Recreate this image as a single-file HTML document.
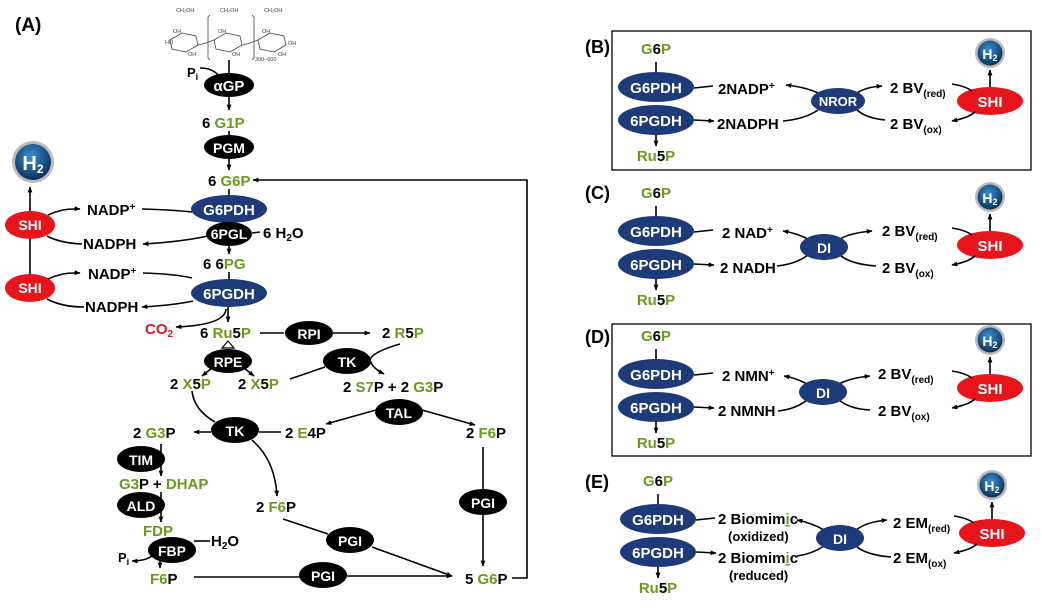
<!DOCTYPE html>
<html><head><meta charset="utf-8"><style>
html,body{margin:0;padding:0;background:#fff;}
svg{display:block;font-family:"Liberation Sans",Arial,sans-serif;font-weight:bold;}
.g{fill:#6a9a1f}.k{fill:#000}.w{fill:#fff}.r{fill:#e8141b}
.ln{stroke:#000;stroke-width:1.6;fill:none}
.a{stroke:#000;stroke-width:1.6;fill:none;marker-end:url(#ar)}
</style></head><body>
<svg width="1042" height="608" viewBox="0 0 1042 608" xmlns="http://www.w3.org/2000/svg">
<defs>
<marker id="ar" viewBox="0 0 10 10" refX="9" refY="5" markerWidth="6" markerHeight="6" orient="auto" markerUnits="userSpaceOnUse"><path d="M0,1 L10,5 L0,9 Z" fill="#000"/></marker>
<radialGradient id="hg" cx="45%" cy="35%" r="65%"><stop offset="0" stop-color="#3a8fd0"/><stop offset="1" stop-color="#0a2f5a"/></radialGradient>
</defs>

<!-- ================= Panel A ================= -->
<text x="15" y="31" font-size="19" class="k">(A)</text>

<g stroke="#444" stroke-width="0.8" fill="none">
<path d="M170,40 L182,33 L196,36 L198,45 L186,52 L172,49 Z"/>
<path d="M214,40 L226,33 L240,36 L242,45 L230,52 L216,49 Z"/>
<path d="M258,40 L270,33 L284,36 L286,45 L274,52 L260,49 Z"/>
<path d="M198,45 L206,43 L214,40 M242,45 L250,43 L258,40"/>
<path d="M210,15 L208,17 L208,58 L210,60 M252,15 L254,17 L254,58 L252,60"/>
</g>
<g font-size="5.5" font-weight="normal" fill="#444">
<text x="176" y="12">CH₂OH</text><text x="220" y="12">CH₂OH</text><text x="264" y="12">CH₂OH</text>
<text x="173" y="33">OH</text><text x="218" y="33">OH</text><text x="262" y="33">OH</text>
<text x="165" y="44">HO</text><text x="188" y="56">OH</text><text x="232" y="56">OH</text><text x="278" y="56">OH</text>
<text x="288" y="45">OH</text><text x="255" y="61">300–600</text>
</g>

<text x="187" y="77" font-size="13">P<tspan font-size="9" dy="3">i</tspan></text>
<path class="ln" d="M200,68 Q212,68 218,75"/>
<line class="ln" x1="229" y1="60" x2="229" y2="74"/>
<ellipse cx="229" cy="85" rx="25" ry="12" fill="#000"/>
<text x="229" y="91" font-size="15" class="w" text-anchor="middle">αGP</text>
<line class="a" x1="229" y1="97" x2="229" y2="110"/>
<text x="202" y="128" font-size="15"><tspan class="k">6 </tspan><tspan class="g">G1P</tspan></text>
<line class="ln" x1="229" y1="131" x2="229" y2="136"/>
<ellipse cx="229" cy="147" rx="25" ry="12" fill="#000"/>
<text x="229" y="153" font-size="14" class="w" text-anchor="middle">PGM</text>
<line class="a" x1="229" y1="159" x2="229" y2="170"/>
<text x="208" y="186" font-size="15"><tspan class="k">6 </tspan><tspan class="g">G6P</tspan></text>
<line class="ln" x1="229" y1="189" x2="229" y2="196"/>
<ellipse cx="229" cy="209" rx="38" ry="14" fill="#1f3a78"/>
<text x="229" y="215" font-size="15" class="w" text-anchor="middle">G6PDH</text>
<ellipse cx="229" cy="234" rx="23" ry="12" fill="#000"/>
<text x="229" y="239" font-size="14" class="w" text-anchor="middle">6PGL</text>
<line class="ln" x1="252" y1="233" x2="260" y2="232"/>
<text x="263" y="238" font-size="15" class="k">6 H<tspan font-size="10" dy="3">2</tspan><tspan dy="-3">O</tspan></text>
<line class="a" x1="229" y1="246" x2="229" y2="254"/>
<text x="203" y="269" font-size="15"><tspan class="k">6 6</tspan><tspan class="g">PG</tspan></text>
<line class="ln" x1="229" y1="272" x2="229" y2="280"/>
<ellipse cx="229" cy="293" rx="38" ry="14" fill="#1f3a78"/>
<text x="229" y="299" font-size="15" class="w" text-anchor="middle">6PGDH</text>

<circle cx="33" cy="162" r="21" fill="#bbb"/>
<circle cx="33" cy="162" r="18" fill="url(#hg)"/>
<text x="33" y="170" font-size="20" class="w" text-anchor="middle">H<tspan font-size="12" dy="3">2</tspan></text>
<line class="a" x1="30" y1="276" x2="30" y2="187"/>
<ellipse cx="30" cy="225" rx="25" ry="14" fill="#e8141b"/>
<text x="30" y="230" font-size="14" class="w" text-anchor="middle">SHI</text>
<ellipse cx="30" cy="288" rx="25" ry="14" fill="#e8141b"/>
<text x="30" y="293" font-size="14" class="w" text-anchor="middle">SHI</text>
<path class="a" d="M48,215 Q62,208 80,209"/>
<text x="87" y="215" font-size="15" class="k">NADP<tspan font-size="10" dy="-5">+</tspan></text>
<path class="ln" d="M142,209 Q175,210 192,212"/>
<path class="ln" d="M47,236 Q60,243 82,244"/>
<text x="83" y="249" font-size="15" class="k">NADPH</text>
<path class="a" d="M208,236 Q180,242 143,244"/>
<path class="a" d="M48,279 Q62,272 80,273"/>
<text x="88" y="279" font-size="15" class="k">NADP<tspan font-size="10" dy="-5">+</tspan></text>
<path class="ln" d="M143,273 Q175,274 192,278"/>
<path class="ln" d="M47,299 Q62,307 84,307"/>
<text x="85" y="312" font-size="15" class="k">NADPH</text>
<path class="a" d="M193,301 Q175,305 142,307"/>

<path class="a" d="M228,307 L228,322"/>
<path class="a" d="M226,309 Q225,325 176,327"/>
<text x="145" y="334" font-size="15" class="r">CO<tspan font-size="10" dy="3">2</tspan></text>
<text x="200" y="338" font-size="15"><tspan class="k">6 </tspan><tspan class="g">Ru</tspan><tspan class="k">5</tspan><tspan class="g">P</tspan></text>
<line class="ln" x1="260" y1="333" x2="284" y2="333"/>
<ellipse cx="309" cy="333" rx="24" ry="12" fill="#000"/>
<text x="309" y="339" font-size="14" class="w" text-anchor="middle">RPI</text>
<line class="a" x1="333" y1="333" x2="370" y2="333"/>
<text x="382" y="338" font-size="15"><tspan class="k">2 </tspan><tspan class="g">R</tspan><tspan class="k">5</tspan><tspan class="g">P</tspan></text>

<path d="M228,341 L222,348 L234,348 Z" fill="none" stroke="#000" stroke-width="1.2"/>
<ellipse cx="228" cy="361" rx="24" ry="12" fill="#000"/>
<text x="228" y="367" font-size="14" class="w" text-anchor="middle">RPE</text>
<path class="a" d="M212,368 L202,376"/>
<path class="a" d="M244,368 L254,376"/>
<text x="170" y="389" font-size="15"><tspan class="k">2 </tspan><tspan class="g">X</tspan><tspan class="k">5</tspan><tspan class="g">P</tspan></text>
<text x="238" y="389" font-size="15"><tspan class="k">2 </tspan><tspan class="g">X</tspan><tspan class="k">5</tspan><tspan class="g">P</tspan></text>

<ellipse cx="347" cy="361" rx="24" ry="13" fill="#000"/>
<text x="347" y="367" font-size="14" class="w" text-anchor="middle">TK</text>
<path class="ln" d="M290,379 L325,367"/>
<path class="a" d="M400,344 Q372,352 370,360 Q372,368 384,374"/>
<text x="343" y="392" font-size="15"><tspan class="k">2 </tspan><tspan class="g">S7</tspan><tspan class="k">P + 2 </tspan><tspan class="g">G3</tspan><tspan class="k">P</tspan></text>

<ellipse cx="399" cy="412" rx="24" ry="13" fill="#000"/>
<text x="399" y="418" font-size="14" class="w" text-anchor="middle">TAL</text>
<path class="a" d="M376,410 L326,424"/>
<path class="a" d="M422,410 L475,425"/>
<text x="466" y="438" font-size="15"><tspan class="k">2 </tspan><tspan class="g">F6</tspan><tspan class="k">P</tspan></text>

<ellipse cx="235" cy="430" rx="24" ry="13" fill="#000"/>
<text x="235" y="436" font-size="14" class="w" text-anchor="middle">TK</text>
<path class="ln" d="M192,391 Q194,410 215,422"/>
<line class="ln" x1="259" y1="432" x2="281" y2="432"/>
<text x="285" y="438" font-size="15"><tspan class="k">2 </tspan><tspan class="g">E</tspan><tspan class="k">4P</tspan></text>
<line class="a" x1="211" y1="432" x2="194" y2="432"/>
<text x="133" y="438" font-size="15"><tspan class="k">2 </tspan><tspan class="g">G3</tspan><tspan class="k">P</tspan></text>
<path class="a" d="M252,440 Q275,460 277,496"/>
<text x="256" y="512" font-size="15"><tspan class="k">2 </tspan><tspan class="g">F6</tspan><tspan class="k">P</tspan></text>

<line class="a" x1="161" y1="444" x2="161" y2="476"/>
<ellipse cx="141" cy="459" rx="24" ry="13" fill="#000"/>
<text x="141" y="465" font-size="14" class="w" text-anchor="middle">TIM</text>
<text x="119" y="489" font-size="15"><tspan class="g">G3</tspan><tspan class="k">P + </tspan><tspan class="g">DHAP</tspan></text>
<line class="a" x1="161" y1="492" x2="161" y2="522"/>
<ellipse cx="141" cy="505" rx="24" ry="13" fill="#000"/>
<text x="141" y="511" font-size="14" class="w" text-anchor="middle">ALD</text>
<text x="143" y="536" font-size="15" class="g">FDP</text>
<ellipse cx="172" cy="550" rx="24" ry="13" fill="#000"/>
<text x="172" y="556" font-size="14" class="w" text-anchor="middle">FBP</text>
<line class="ln" x1="194" y1="541" x2="210" y2="541"/>
<text x="211" y="546" font-size="15" class="k">H<tspan font-size="10" dy="3">2</tspan><tspan dy="-3">O</tspan></text>
<path class="a" d="M152,556 Q145,561 132,561"/>
<text x="118" y="562" font-size="13" class="k">P<tspan font-size="9" dy="3">i</tspan></text>
<line class="a" x1="160" y1="560" x2="160" y2="568"/>
<text x="150" y="584" font-size="15"><tspan class="g">F6</tspan><tspan class="k">P</tspan></text>

<line class="ln" x1="283" y1="519" x2="328" y2="534"/>
<ellipse cx="350" cy="540" rx="24" ry="13" fill="#000"/>
<text x="350" y="546" font-size="14" class="w" text-anchor="middle">PGI</text>
<line class="a" x1="372" y1="547" x2="452" y2="576"/>
<line class="ln" x1="194" y1="577" x2="300" y2="577"/>
<ellipse cx="323" cy="575" rx="24" ry="13" fill="#000"/>
<text x="323" y="581" font-size="14" class="w" text-anchor="middle">PGI</text>
<line class="a" x1="347" y1="576" x2="452" y2="576"/>
<line class="ln" x1="483" y1="447" x2="483" y2="489"/>
<ellipse cx="483" cy="502" rx="24" ry="13" fill="#000"/>
<text x="483" y="508" font-size="14" class="w" text-anchor="middle">PGI</text>
<line class="a" x1="483" y1="515" x2="483" y2="566"/>
<text x="465" y="584" font-size="15"><tspan class="k">5 </tspan><tspan class="g">G6</tspan><tspan class="k">P</tspan></text>
<path class="a" d="M512,578 L527,578 L527,180 L253,180"/>

<!-- ================= Panels B-E ================= -->
<rect x="612" y="31" width="419" height="139" fill="none" stroke="#000" stroke-width="1.3"/>
<rect x="612" y="324" width="419" height="132" fill="none" stroke="#000" stroke-width="1.3"/>
<text x="585" y="53" font-size="18" class="k">(B)</text>
<text x="585" y="199" font-size="18" class="k">(C)</text>
<text x="585" y="343" font-size="18" class="k">(D)</text>
<text x="585" y="488" font-size="18" class="k">(E)</text>

<g id="left">
<text x="656" y="54" font-size="15" text-anchor="middle"><tspan class="g">G</tspan><tspan class="k">6</tspan><tspan class="g">P</tspan></text>
<line class="ln" x1="656" y1="62" x2="656" y2="73"/>
<ellipse cx="656" cy="87" rx="38" ry="15" fill="#1f3a78"/>
<text x="656" y="93" font-size="15" class="w" text-anchor="middle">G6PDH</text>
<ellipse cx="656" cy="120" rx="38" ry="15" fill="#1f3a78"/>
<text x="656" y="126" font-size="15" class="w" text-anchor="middle">6PGDH</text>
<line class="a" x1="656" y1="135" x2="656" y2="146"/>
<text x="656" y="161" font-size="15" text-anchor="middle"><tspan class="g">Ru</tspan><tspan class="k">5</tspan><tspan class="g">P</tspan></text>
<line class="ln" x1="694" y1="88" x2="713" y2="86"/>
<line class="a" x1="694" y1="120" x2="714" y2="121"/>
<circle cx="990" cy="53" r="15" fill="#bbb"/>
<circle cx="990" cy="53" r="12.5" fill="url(#hg)"/>
<text x="990" y="59" font-size="14" class="w" text-anchor="middle">H<tspan font-size="9" dy="2">2</tspan></text>
<line class="a" x1="990" y1="87" x2="990" y2="70"/>
<ellipse cx="990" cy="101" rx="33" ry="14" fill="#e8141b"/>
<text x="990" y="107" font-size="15" class="w" text-anchor="middle">SHI</text>
<path class="ln" d="M952,84 Q965,86 972,91"/>
<path class="a" d="M975,112 Q968,118 952,121"/>
</g>
<!-- B -->
<path class="a" d="M818,93 Q805,87 786,85"/>
<path class="a" d="M857,93 Q866,87 882,86"/>
<path class="ln" d="M857,110 Q866,118 885,120"/>
<path class="ln" d="M818,110 Q805,119 783,121"/>
<text x="718" y="94" font-size="15" class="k">2NADP<tspan font-size="10" dy="-5">+</tspan></text>
<text x="717" y="129" font-size="15" class="k">2NADPH</text>
<ellipse cx="838" cy="101" rx="27" ry="13" fill="#1f3a78"/>
<text x="838" y="106" font-size="13" class="w" text-anchor="middle">NROR</text>
<text x="890" y="93" font-size="15" class="k">2 BV<tspan font-size="10" dy="4">(red)</tspan></text>
<text x="890" y="129" font-size="15" class="k">2 BV<tspan font-size="10" dy="4">(ox)</tspan></text>

<!-- C -->
<use href="#left" transform="translate(0,144)"/>
<path class="a" d="M808,239 Q796,233 783,231"/>
<path class="a" d="M840,239 Q850,233 872,231"/>
<path class="ln" d="M840,255 Q850,264 876,266"/>
<path class="ln" d="M808,255 Q796,264 777,266"/>
<text x="722" y="238" font-size="15" class="k">2 NAD<tspan font-size="10" dy="-5">+</tspan></text>
<text x="720" y="273" font-size="15" class="k">2 NADH</text>
<ellipse cx="824" cy="247" rx="24" ry="13" fill="#1f3a78"/>
<text x="824" y="253" font-size="14" class="w" text-anchor="middle">DI</text>
<text x="882" y="236" font-size="15" class="k">2 BV<tspan font-size="10" dy="4">(red)</tspan></text>
<text x="882" y="273" font-size="15" class="k">2 BV<tspan font-size="10" dy="4">(ox)</tspan></text>

<!-- D -->
<use href="#left" transform="translate(0,287)"/>
<path class="a" d="M807,384 Q796,378 784,376"/>
<path class="a" d="M839,384 Q850,378 870,376"/>
<path class="ln" d="M839,400 Q850,409 870,410"/>
<path class="ln" d="M807,400 Q796,409 778,411"/>
<text x="722" y="381" font-size="15" class="k">2 NMN<tspan font-size="10" dy="-5">+</tspan></text>
<text x="718" y="416" font-size="15" class="k">2 NMNH</text>
<ellipse cx="823" cy="392" rx="24" ry="13" fill="#1f3a78"/>
<text x="823" y="398" font-size="14" class="w" text-anchor="middle">DI</text>
<text x="878" y="379" font-size="15" class="k">2 BV<tspan font-size="10" dy="4">(red)</tspan></text>
<text x="878" y="416" font-size="15" class="k">2 BV<tspan font-size="10" dy="4">(ox)</tspan></text>

<!-- E -->
<use href="#left" transform="translate(2,432)"/>
<path class="a" d="M824,530 Q812,523 797,520"/>
<path class="a" d="M856,530 Q866,522 887,520"/>
<path class="ln" d="M856,546 Q866,555 891,557"/>
<path class="ln" d="M824,546 Q812,554 797,556"/>
<text x="718" y="524" font-size="15" class="k">2 Biomim<tspan class="g" text-decoration="underline">i</tspan>c</text>
<text x="728" y="541" font-size="13" class="k">(oxidized)</text>
<text x="718" y="563" font-size="15" class="k">2 Biomim<tspan class="g" text-decoration="underline">i</tspan>c</text>
<text x="729" y="580" font-size="13" class="k">(reduced)</text>
<ellipse cx="840" cy="538" rx="24" ry="13" fill="#1f3a78"/>
<text x="840" y="544" font-size="14" class="w" text-anchor="middle">DI</text>
<text x="893" y="528" font-size="15" class="k">2 EM<tspan font-size="10" dy="4">(red)</tspan></text>
<text x="893" y="563" font-size="15" class="k">2 EM<tspan font-size="10" dy="4">(ox)</tspan></text>
</svg>
</body></html>
